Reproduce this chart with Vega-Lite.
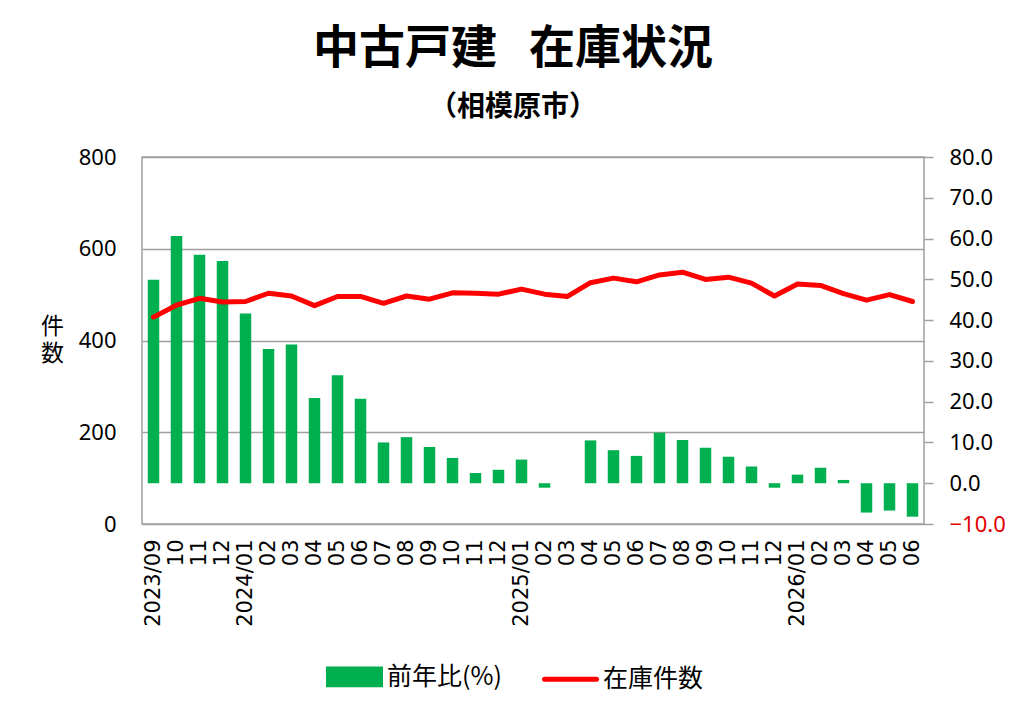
{
  "$schema": "https://vega.github.io/schema/vega-lite/v6.json",
  "autosize": {"type": "none"},
  "padding": {"left": 142, "top": 157, "right": 100, "bottom": 192},
  "width": 782,
  "height": 367,
  "background": "white",
  "title": {
    "text": "中古戸建\u2002\u2009在庫状況",
    "subtitle": "（相模原市）",
    "font": "Noto Sans CJK JP",
    "fontSize": 46,
    "fontWeight": "bold",
    "color": "black",
    "subtitleFont": "Noto Sans CJK JP",
    "subtitleFontSize": 28,
    "subtitleFontWeight": "bold",
    "subtitleColor": "black",
    "subtitlePadding": 21,
    "anchor": "middle",
    "offset": 23,
    "dx": -20
  },
  "data": {
    "values": [
      {"month": "2023/09", "yoy": 49.9, "stock": 451},
      {"month": "2023/10", "yoy": 60.6, "stock": 477},
      {"month": "2023/11", "yoy": 56.0, "stock": 492},
      {"month": "2023/12", "yoy": 54.5, "stock": 484},
      {"month": "2024/01", "yoy": 41.6, "stock": 485},
      {"month": "2024/02", "yoy": 32.9, "stock": 503},
      {"month": "2024/03", "yoy": 34.0, "stock": 497},
      {"month": "2024/04", "yoy": 20.9, "stock": 476},
      {"month": "2024/05", "yoy": 26.5, "stock": 496},
      {"month": "2024/06", "yoy": 20.7, "stock": 496},
      {"month": "2024/07", "yoy": 10.0, "stock": 481},
      {"month": "2024/08", "yoy": 11.3, "stock": 497},
      {"month": "2024/09", "yoy": 8.9, "stock": 490},
      {"month": "2024/10", "yoy": 6.2, "stock": 504},
      {"month": "2024/11", "yoy": 2.5, "stock": 503},
      {"month": "2024/12", "yoy": 3.3, "stock": 501},
      {"month": "2025/01", "yoy": 5.8, "stock": 512},
      {"month": "2025/02", "yoy": -1.1, "stock": 501},
      {"month": "2025/03", "yoy": 0.0, "stock": 496},
      {"month": "2025/04", "yoy": 10.5, "stock": 526},
      {"month": "2025/05", "yoy": 8.1, "stock": 536},
      {"month": "2025/06", "yoy": 6.7, "stock": 528},
      {"month": "2025/07", "yoy": 12.4, "stock": 543},
      {"month": "2025/08", "yoy": 10.6, "stock": 549},
      {"month": "2025/09", "yoy": 8.7, "stock": 533},
      {"month": "2025/10", "yoy": 6.5, "stock": 538},
      {"month": "2025/11", "yoy": 4.1, "stock": 525},
      {"month": "2025/12", "yoy": -1.1, "stock": 497},
      {"month": "2026/01", "yoy": 2.1, "stock": 523},
      {"month": "2026/02", "yoy": 3.8, "stock": 520},
      {"month": "2026/03", "yoy": 0.8, "stock": 502},
      {"month": "2026/04", "yoy": -7.2, "stock": 488},
      {"month": "2026/05", "yoy": -6.7, "stock": 500},
      {"month": "2026/06", "yoy": -8.2, "stock": 485}
    ]
  },
  "encoding": {
    "x": {
      "field": "month",
      "type": "ordinal",
      "scale": {"paddingInner": 0.5, "paddingOuter": 0.25},
      "axis": {
        "title": null,
        "labelAngle": 270,
        "labelFont": "DejaVu Sans",
        "labelFontSize": 21,
        "labelColor": "black",
        "labelPadding": 15,
        "ticks": false,
        "domain": false,
        "grid": false,
        "labelExpr": "datum.value == '2023/09' || slice(datum.value, 5) == '01' ? datum.value : slice(datum.value, 5)"
      }
    }
  },
  "layer": [
    {
      "mark": {"type": "bar", "size": 11.5},
      "encoding": {
        "y": {
          "field": "yoy",
          "type": "quantitative",
          "scale": {"domain": [-10, 80], "nice": false},
          "axis": {
            "orient": "right",
            "title": null,
            "values": [-10, 0, 10, 20, 30, 40, 50, 60, 70, 80],
            "format": ".1f",
            "labelFont": "Noto Sans",
            "labelFontSize": 22,
            "labelColor": {"expr": "datum.value < 0 ? '#e00000' : 'black'"},
            "labelPadding": 16,
            "tickSize": 9,
            "tickColor": "#a0a0a0",
            "tickWidth": 1.5,
            "domain": false,
            "grid": false
          }
        },
        "color": {
          "datum": "前年比(%)",
          "scale": {"domain": ["前年比(%)", "在庫件数"], "range": ["#00B050", "#FF0000"]},
          "legend": {
            "title": null,
            "orient": "none",
            "direction": "horizontal",
            "legendX": 184,
            "legendY": 491,
            "labelFont": "Noto Sans CJK JP",
            "labelFontSize": 25,
            "labelColor": "black",
            "labelOffset": 4,
            "columnPadding": 32,
            "symbolSize": 2704,
            "encode": {
              "symbols": {
                "update": {
                  "shape": {"signal": "datum.value === '在庫件数' ? 'M-1,0L1,0' : 'M-1,-0.3L1,-0.3L1,0.3L-1,0.3Z'"},
                  "fill": {"signal": "datum.value === '在庫件数' ? 'transparent' : '#00B050'"},
                  "stroke": {"signal": "datum.value === '在庫件数' ? '#FF0000' : 'transparent'"},
                  "strokeWidth": {"value": 5},
                  "strokeCap": {"value": "round"},
                  "size": {"value": 2704},
                  "opacity": {"value": 1}
                }
              }
            }
          }
        }
      }
    },
    {
      "mark": {"type": "line", "strokeWidth": 5, "strokeJoin": "round", "strokeCap": "round"},
      "encoding": {
        "y": {
          "field": "stock",
          "type": "quantitative",
          "scale": {"domain": [0, 800], "nice": false},
          "axis": {
            "orient": "left",
            "title": ["件", "数"],
            "titleAngle": 0,
            "titleAlign": "center",
            "titleBaseline": "top",
            "titleX": -90,
            "titleY": 158,
            "titleFont": "Noto Sans CJK JP",
            "titleFontSize": 23,
            "titleFontWeight": "normal",
            "titleLineHeight": 27,
            "titleColor": "black",
            "values": [0, 200, 400, 600, 800],
            "labelFont": "Noto Sans",
            "labelFontSize": 22,
            "labelColor": "black",
            "labelPadding": 26,
            "ticks": false,
            "domain": false,
            "grid": true,
            "gridColor": "#a0a0a0",
            "gridWidth": 1.5
          }
        },
        "color": {"datum": "在庫件数"}
      }
    }
  ],
  "resolve": {"scale": {"y": "independent"}},
  "config": {
    "view": {"stroke": "#a0a0a0", "strokeWidth": 1.5}
  }
}
